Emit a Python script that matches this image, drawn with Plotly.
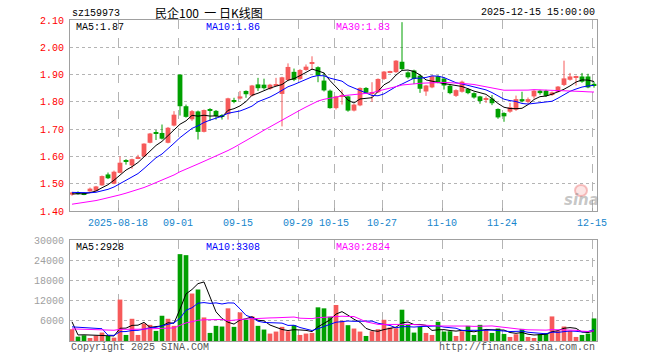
import plotly.graph_objects as go
import pandas as pd

# ---------------- data ----------------
opens = [1.460, 1.466, 1.464, 1.472, 1.474, 1.494, 1.534, 1.500, 1.540, 1.584,
         1.567, 1.594, 1.600, 1.650, 1.686, 1.686, 1.650, 1.713, 1.900, 1.784,
         1.736, 1.765, 1.690, 1.772, 1.767, 1.747, 1.755, 1.803, 1.812, 1.840,
         1.823, 1.864, 1.863, 1.848, 1.861, 1.829, 1.880, 1.910, 1.884, 1.917,
         1.941, 1.927, 1.878, 1.841, 1.777, 1.821, 1.820, 1.768, 1.787, 1.851,
         1.831, 1.835, 1.884, 1.908, 1.909, 1.947, 1.908, 1.915, 1.896, 1.838,
         1.853, 1.894, 1.885, 1.859, 1.822, 1.837, 1.847, 1.832, 1.820, 1.810,
         1.812, 1.774, 1.759, 1.764, 1.771, 1.810, 1.800, 1.820, 1.841, 1.841,
         1.825, 1.837, 1.862, 1.881, 1.891, 1.893, 1.893, 1.866]
highs = [1.470, 1.472, 1.468, 1.486, 1.492, 1.530, 1.541, 1.548, 1.600, 1.590,
         1.592, 1.606, 1.648, 1.686, 1.697, 1.717, 1.708, 1.766, 1.900, 1.790,
         1.770, 1.768, 1.772, 1.777, 1.770, 1.755, 1.815, 1.815, 1.840, 1.842,
         1.862, 1.888, 1.885, 1.866, 1.888, 1.892, 1.941, 1.922, 1.920, 1.937,
         1.967, 1.930, 1.907, 1.845, 1.822, 1.845, 1.823, 1.792, 1.853, 1.854,
         1.872, 1.886, 1.913, 1.914, 1.953, 2.092, 1.912, 1.918, 1.900, 1.862,
         1.896, 1.897, 1.890, 1.862, 1.846, 1.878, 1.850, 1.835, 1.822, 1.820,
         1.825, 1.776, 1.762, 1.796, 1.823, 1.837, 1.816, 1.843, 1.844, 1.844,
         1.838, 1.858, 1.951, 1.906, 1.896, 1.906, 1.903, 1.874]
lows = [1.456, 1.460, 1.458, 1.470, 1.472, 1.492, 1.517, 1.498, 1.538, 1.570,
        1.555, 1.590, 1.598, 1.648, 1.660, 1.662, 1.648, 1.710, 1.750, 1.742,
        1.730, 1.662, 1.688, 1.730, 1.735, 1.735, 1.735, 1.795, 1.808, 1.815,
        1.820, 1.840, 1.845, 1.844, 1.858, 1.710, 1.876, 1.876, 1.880, 1.914,
        1.918, 1.872, 1.838, 1.775, 1.772, 1.790, 1.764, 1.765, 1.784, 1.830,
        1.800, 1.832, 1.880, 1.905, 1.906, 1.915, 1.885, 1.865, 1.833, 1.822,
        1.850, 1.868, 1.845, 1.828, 1.818, 1.834, 1.828, 1.812, 1.793, 1.796,
        1.788, 1.738, 1.727, 1.760, 1.767, 1.798, 1.794, 1.812, 1.826, 1.818,
        1.822, 1.834, 1.858, 1.878, 1.860, 1.870, 1.850, 1.852]
closes = [1.468, 1.464, 1.462, 1.482, 1.490, 1.528, 1.520, 1.544, 1.577, 1.581,
          1.590, 1.597, 1.647, 1.684, 1.683, 1.665, 1.705, 1.753, 1.784, 1.745,
          1.766, 1.690, 1.770, 1.769, 1.748, 1.745, 1.813, 1.800, 1.820, 1.828,
          1.860, 1.850, 1.850, 1.863, 1.864, 1.890, 1.928, 1.881, 1.917, 1.929,
          1.945, 1.896, 1.842, 1.777, 1.820, 1.824, 1.768, 1.790, 1.851, 1.833,
          1.834, 1.884, 1.911, 1.911, 1.951, 1.920, 1.890, 1.884, 1.848, 1.860,
          1.894, 1.872, 1.860, 1.832, 1.843, 1.874, 1.832, 1.816, 1.803, 1.813,
          1.795, 1.743, 1.747, 1.780, 1.810, 1.802, 1.810, 1.841, 1.832, 1.822,
          1.835, 1.856, 1.886, 1.893, 1.893, 1.874, 1.853, 1.860]
volumes = [3500, 1300, 1700, 900, 1600, 2500, 1500, 1000, 12300, 1800,
           6600, 1800, 5200, 4800, 3000, 7500, 6600, 4500, 25800, 25500,
           14100, 15300, 7000, 2400, 4500, 4300, 9700, 4200, 8500, 6300,
           7300, 4500, 3400, 2200, 2800, 4200, 2900, 4700, 1800, 2200,
           2400, 10000, 9700, 7200, 10700, 6000, 4700, 3700, 2800, 1500,
           2900, 3500, 6300, 4000, 3800, 9300, 4800, 2500, 4200, 2400,
           1800, 5700, 2800, 2900, 1500, 2900, 4500, 1800, 4800, 3200,
           2400, 3700, 2100, 1200, 2000, 3600, 1200, 900, 2000, 2300,
           7300, 3000, 4300, 3000, 1200, 1800, 2200, 6700]
# sessions before the visible window (only feed the moving averages)
pre_closes = [1.370, 1.372, 1.375, 1.380, 1.378, 1.385, 1.390, 1.388, 1.395, 1.400,
              1.405, 1.410, 1.415, 1.420, 1.418, 1.425, 1.430, 1.428, 1.435, 1.445,
              1.470, 1.478, 1.475, 1.472, 1.475, 1.465, 1.458, 1.462, 1.460]
pre_volumes = [3000, 3500, 2800, 4200, 3600, 2500, 3100, 3900, 3300, 2900,
               3400, 3700, 2600, 3200, 3800, 3000, 3500, 2700, 4100, 3200,
               2500, 3100, 2600, 2900, 2400, 20800, 1500, 1300, 1400]

tick_idx = [8, 18, 28, 38, 44, 52, 62, 72, 87]
tick_labels = ["2025-08-18", "09-01", "09-15", "09-29", "10-15",
               "10-27", "11-10", "11-24", "12-15"]
price_ticks = [1.40, 1.50, 1.60, 1.70, 1.80, 1.90, 2.00, 2.10]
vol_ticks = [6000, 12000, 18000, 24000, 30000]
vol_tick_labels = ["6000", "12000", "18000", "24000", "30000"]

# ---------------- derived ----------------
RED = "#f65a5a"
GREEN = "#00a000"
n = len(closes)
xs = list(range(n))
npre = len(pre_closes)
c_all = pd.Series(pre_closes + closes)
v_all = pd.Series(pre_volumes + volumes)
ma = {k: c_all.rolling(k).mean().iloc[npre:].tolist() for k in (5, 10, 30)}
vma = {k: v_all.rolling(k).mean().iloc[npre:].tolist() for k in (5, 10, 30)}

up = [c >= o for o, c in zip(opens, closes)]
MIN_BODY = 0.0037

fig = go.Figure()

for flag, col in ((True, RED), (False, GREEN)):
    wx, wy = [], []
    for i in xs:
        if up[i] == flag:
            wx += [i, i, None]
            wy += [lows[i], highs[i], None]
    fig.add_trace(go.Scatter(x=wx, y=wy, mode="lines", line=dict(color=col, width=1),
                             hoverinfo="skip", showlegend=False, xaxis="x", yaxis="y"))
for flag, col in ((True, RED), (False, GREEN)):
    bx = [i for i in xs if up[i] == flag]
    base = [min(opens[i], closes[i]) for i in bx]
    h = [max(abs(closes[i] - opens[i]), MIN_BODY) for i in bx]
    fig.add_trace(go.Bar(x=bx, y=h, base=base, width=0.8, marker=dict(color=col, line=dict(width=0)),
                         showlegend=False, xaxis="x", yaxis="y"))

for k, col in ((5, "#000000"), (10, "#0000ff"), (30, "#ff00ff")):
    fig.add_trace(go.Scatter(x=xs, y=ma[k], mode="lines", line=dict(color=col, width=1),
                             showlegend=False, xaxis="x", yaxis="y"))

for flag, col in ((True, RED), (False, GREEN)):
    bx = [i for i in xs if up[i] == flag]
    fig.add_trace(go.Bar(x=bx, y=[volumes[i] for i in bx], width=0.78,
                         marker=dict(color=col, line=dict(width=0)),
                         showlegend=False, xaxis="x2", yaxis="y2"))
for k, col in ((5, "#000000"), (10, "#0000ff"), (30, "#ff00ff")):
    fig.add_trace(go.Scatter(x=xs, y=vma[k], mode="lines", line=dict(color=col, width=1),
                             showlegend=False, xaxis="x2", yaxis="y2"))

# ---------------- layout ----------------
L, R, T, B = 70, 597, 20, 341
W, H = 660, 360
PW, PH = R - L, B - T


def px(X):
    return (X - L) / PW


def py(Y):
    return (B - Y) / PH


xr = [-1 / 3, n - 0.5]
tv = [i - 1 / 3 for i in tick_idx]
MONO = "Liberation Mono"
GRID = "#b4b4b4"
BORDER = "#a0a0a0"

fig.update_layout(
    width=W, height=H,
    margin=dict(l=L, r=W - R, t=T, b=H - B, autoexpand=False),
    paper_bgcolor="white", plot_bgcolor="white", barmode="overlay",
    font=dict(family=MONO, size=10, color="#000"), showlegend=False,
    xaxis=dict(domain=[0, 1], anchor="y", range=xr, tickmode="array", tickvals=tv,
               ticktext=tick_labels, showgrid=True, gridcolor=GRID, griddash="dash",
               gridwidth=1, showline=True, mirror=True, linecolor=BORDER, linewidth=1,
               ticks="inside", ticklen=3, tickcolor=BORDER, zeroline=False, automargin=False,
               tickfont=dict(family=MONO, size=10, color="#1585cc"), ticklabelstandoff=2),
    yaxis=dict(domain=[py(211), 1], anchor="x", range=[1.40, 2.10], tickmode="array",
               tickvals=price_ticks, tickformat=".2f", showgrid=True, gridcolor=GRID,
               griddash="dot", showline=True, mirror=True, linecolor=BORDER, zeroline=False,
               ticks="", automargin=False, tickfont=dict(family=MONO, size=10, color="#ff0000"),
               ticklabelstandoff=3),
    xaxis2=dict(domain=[0, 1], anchor="y2", range=xr, tickmode="array", tickvals=tv,
                showticklabels=False, showgrid=True, gridcolor=GRID, griddash="dash",
                showline=True, mirror=True, linecolor=BORDER, ticks="", zeroline=False,
                automargin=False),
    yaxis2=dict(domain=[0, py(240)], anchor="x2", range=[0, 30000], tickmode="array",
                tickvals=vol_ticks, ticktext=vol_tick_labels, showgrid=True, gridcolor=GRID,
                griddash="dot", showline=True, mirror=True, linecolor=BORDER, zeroline=False,
                ticks="", automargin=False, tickfont=dict(family=MONO, size=10, color="#a0a0a0"),
                ticklabelstandoff=3),
)


def txt(X, Y, s, color="#000", xanchor="left", size=10, family=MONO):
    fig.add_annotation(x=px(X), y=py(Y), xref="paper", yref="paper", text=s, showarrow=False,
                       xanchor=xanchor, yanchor="middle", font=dict(family=family, size=size, color=color))


txt(70, 13, "sz159973")
txt(209, 12, "民企100&nbsp;&nbsp;一&nbsp;日K线图", xanchor="center", size=12, family="Noto Sans CJK SC")
txt(597, 12, "2025-12-15 15:00:00", xanchor="right")
txt(74, 27, "MA5:1.87")
txt(204, 27, "MA10:1.86", color="#0000ff")
txt(334, 27, "MA30:1.83", color="#ff00ff")
txt(74, 247, "MA5:2928")
txt(204, 247, "MA10:3308", color="#0000ff")
txt(334, 247, "MA30:2824", color="#ff00ff")
txt(69, 347, "Copyright 2025 SINA.COM", color="#555555")
txt(597, 347, "http://finance.sina.com.cn", color="#555555", xanchor="right")

# sina watermark
fig.add_shape(type="circle", xref="paper", yref="paper", x0=px(575), x1=px(587), y0=py(196), y1=py(185),
              line=dict(color="rgba(235,120,120,0.45)", width=2), fillcolor="rgba(245,170,170,0.3)")
txt(581, 200, "<b><i>sina</i></b>", color="rgba(150,150,150,0.55)", xanchor="center", size=15,
    family="DejaVu Sans")

# remove the browser's default 8px body margin so the figure fills the window
fig.write_html("out.html", config={"displayModeBar": False},
               post_script="document.body.style.margin='0px';")
